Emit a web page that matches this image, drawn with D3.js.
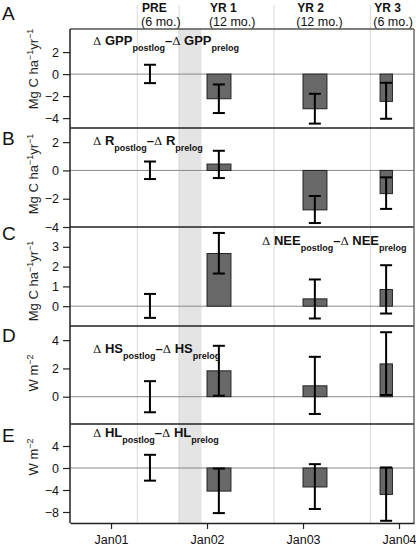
<!DOCTYPE html>
<html><head><meta charset="utf-8">
<script src="https://cdn.jsdelivr.net/npm/d3@7"></script>
<style>
html,body{margin:0;padding:0;background:#fff;}
svg{display:block;font-family:"Liberation Sans",Arial,Helvetica,sans-serif;}
</style></head>
<body>
<svg id="chart" width="416" height="548"></svg>
<script>
// ---------- data ----------
const periods = ["PRE", "YR 1", "YR 2", "YR 3"];
const periodNotes = ["(6 mo.)", "(12 mo.)", "(12 mo.)", "(6 mo.)"];
const headerDates = ["2001-04-29", "2002-01-12", "2002-12-10", "2003-09-29"];
const errDates = ["2001-05-29", "2002-02-15", "2003-02-15", "2003-11-13"];
const barStart = [null, "2002-01-01", "2003-01-01", "2003-10-21"];
const barEnd = [null, "2002-04-02", "2003-04-02", "2003-12-07"];
const gridDates = ["2001-04-11", "2001-09-17", "2002-09-13", "2003-09-14"];
const loggingBand = ["2001-09-15", "2001-12-11"];
const xTickDates = ["2001-01-01", "2002-01-01", "2003-01-01", "2004-01-01"];
const xTickLabels = ["Jan01", "Jan02", "Jan03", "Jan04"];
const xDomain = ["2000-07-29", "2004-02-27"];

const panelLetters = ["A", "B", "C", "D", "E"];
const panelVars = ["GPP", "R", "NEE", "HS", "HL"];
const panelUnits = ["carbon", "carbon", "carbon", "energy", "energy"];

const gppBar = [null, -2.24, -3.15, -2.48];
const gppLow = [-0.82, -3.54, -4.50, -4.06];
const gppHigh = [0.85, -0.94, -1.79, -0.79];
const gppTicks = [-4, -2, 0, 2];
const gppDomain = [-4.9, 4.1];

const rBar = [null, 0.45, -2.79, -1.64];
const rLow = [-0.61, -0.54, -3.72, -2.72];
const rHigh = [0.63, 1.39, -1.81, -0.49];
const rTicks = [-4, -2, 0, 2];
const rDomain = [-4, 3];

const neeBar = [null, 2.66, 0.37, 0.84];
const neeLow = [-0.59, 1.65, -0.62, -0.37];
const neeHigh = [0.62, 3.70, 1.35, 2.07];
const neeTicks = [0, 1, 2, 3];
const neeDomain = [-1, 4];

const hsBar = [null, 1.83, 0.77, 2.32];
const hsLow = [-1.10, 0.07, -1.22, 0.12];
const hsHigh = [1.10, 3.60, 2.82, 4.56];
const hsTicks = [0, 2, 4];
const hsDomain = [-2, 5];

const hlBar = [null, -4.20, -3.45, -4.80];
const hlLow = [-2.30, -8.20, -7.45, -9.60];
const hlHigh = [2.40, -0.10, 0.70, 0.10];
const hlTicks = [-8, -4, 0, 4];
const hlDomain = [-10, 8];

// ---------- layout ----------
const parse = d3.timeParse("%Y-%m-%d");
const L = 70, R = 414;
const panelTops = [29, 128, 227, 326, 424];
const panelH = 99;
const bottom = 523;
const letterBase = [20, 145, 240, 342, 442];
const ylabCenter = [69, 174, 281, 373, 457];
const annot = [
  {x: 93, y: 45}, {x: 93, y: 145}, {x: 262, y: 245}, {x: 93, y: 353}, {x: 93, y: 437}
];

const panels = [
  {bar: gppBar, lo: gppLow, hi: gppHigh, ticks: gppTicks, dom: gppDomain},
  {bar: rBar, lo: rLow, hi: rHigh, ticks: rTicks, dom: rDomain},
  {bar: neeBar, lo: neeLow, hi: neeHigh, ticks: neeTicks, dom: neeDomain},
  {bar: hsBar, lo: hsLow, hi: hsHigh, ticks: hsTicks, dom: hsDomain},
  {bar: hlBar, lo: hlLow, hi: hlHigh, ticks: hlTicks, dom: hlDomain}
];

const svg = d3.select("#chart");
const x = d3.scaleTime().domain(xDomain.map(parse)).range([L, R]);

// logging band (inside panels)
svg.append("rect")
  .attr("x", x(parse(loggingBand[0])))
  .attr("width", x(parse(loggingBand[1])) - x(parse(loggingBand[0])))
  .attr("y", panelTops[0]).attr("height", bottom - panelTops[0])
  .attr("fill", "#e4e4e4");

// vertical grid lines
svg.selectAll("line.grid").data(gridDates).join("line")
  .attr("class", "grid")
  .attr("x1", d => x(parse(d))).attr("x2", d => x(parse(d)))
  .attr("y1", 5).attr("y2", bottom)
  .attr("stroke", "#dadada").attr("stroke-width", 1);

// header
const hdr = svg.selectAll("g.hdr").data(periods).join("g").attr("class", "hdr");
hdr.append("text")
  .attr("x", (d, i) => x(parse(headerDates[i]))).attr("y", 12)
  .attr("font-size", 12).attr("font-weight", "bold").attr("fill", "#111")
  .text(d => d);
hdr.append("text")
  .attr("x", (d, i) => x(parse(headerDates[i])) - 1).attr("y", 26)
  .attr("font-size", 12.5).attr("fill", "#111")
  .text((d, i) => periodNotes[i]);

panels.forEach((p, k) => {
  const top = panelTops[k];
  const y = d3.scaleLinear().domain(p.dom).range([top + panelH, top]);
  const g = svg.append("g");

  // zero line
  g.append("line").attr("x1", L).attr("x2", R).attr("y1", y(0)).attr("y2", y(0))
    .attr("stroke", "#8a8a8a").attr("stroke-width", 1);

  // bars
  const idx = d3.range(periods.length).filter(i => p.bar[i] !== null);
  g.selectAll("rect.bar").data(idx).join("rect")
    .attr("class", "bar")
    .attr("x", i => x(parse(barStart[i])))
    .attr("width", i => x(parse(barEnd[i])) - x(parse(barStart[i])))
    .attr("y", i => Math.min(y(p.bar[i]), y(0)))
    .attr("height", i => Math.abs(y(p.bar[i]) - y(0)))
    .attr("fill", "#686868").attr("stroke", "#222").attr("stroke-width", 1);

  // error bars
  const eb = g.selectAll("g.eb").data(d3.range(periods.length)).join("g").attr("class", "eb");
  eb.append("line")
    .attr("x1", i => x(parse(errDates[i]))).attr("x2", i => x(parse(errDates[i])))
    .attr("y1", i => y(p.lo[i])).attr("y2", i => y(p.hi[i]))
    .attr("stroke", "#000").attr("stroke-width", 2);
  ["lo", "hi"].forEach(key => {
    eb.append("line")
      .attr("x1", i => x(parse(errDates[i])) - 6).attr("x2", i => x(parse(errDates[i])) + 6)
      .attr("y1", i => y(p[key][i])).attr("y2", i => y(p[key][i]))
      .attr("stroke", "#000").attr("stroke-width", 2);
  });

  // y axis
  const ax = g.append("g").attr("transform", `translate(${L},0)`)
    .call(d3.axisLeft(y).tickValues(p.ticks).tickSize(7).tickSizeOuter(0)
      .tickFormat(d => d < 0 ? "\u2212" + Math.abs(d) : String(d)));
  ax.select(".domain").remove();
  ax.selectAll(".tick line").attr("stroke", "#222").attr("stroke-width", 1.2);
  ax.selectAll(".tick text").attr("font-size", 12.5).attr("fill", "#111")
    .attr("font-family", "'Liberation Sans',Arial,sans-serif").attr("x", -11);

  // panel top border
  g.append("line").attr("x1", L).attr("x2", R).attr("y1", top).attr("y2", top)
    .attr("stroke", k === 0 ? "#555" : "#222").attr("stroke-width", 1.3);

  // panel letter
  svg.append("text").attr("x", 2).attr("y", letterBase[k])
    .attr("font-size", 19).attr("fill", "#111").text(panelLetters[k]);

  // y label
  const yl = svg.append("text")
    .attr("transform", `translate(38,${ylabCenter[k]}) rotate(-90)`)
    .attr("text-anchor", "middle").attr("font-size", 13).attr("fill", "#222");
  if (panelUnits[k] === "carbon") {
    yl.append("tspan").text("Mg C ha");
    yl.append("tspan").attr("dy", -5).attr("font-size", 9).text("\u22121");
    yl.append("tspan").attr("dy", 5).text("yr");
    yl.append("tspan").attr("dy", -5).attr("font-size", 9).text("\u22121");
  } else {
    yl.append("tspan").text("W m");
    yl.append("tspan").attr("dy", -5).attr("font-size", 9).text("\u22122");
  }

  // annotation
  const a = svg.append("text").attr("x", annot[k].x).attr("y", annot[k].y)
    .attr("font-size", 13).attr("fill", "#111");
  a.append("tspan").attr("font-family", "'DejaVu Serif',serif").attr("font-size", 11.5).text("\u0394");
  a.append("tspan").attr("font-weight", "bold").text(" " + panelVars[k]);
  a.append("tspan").attr("dy", 6).attr("font-size", 9).attr("font-weight", "bold").text("postlog");
  a.append("tspan").attr("dy", -6).attr("font-weight", "bold").text("\u2013");
  a.append("tspan").attr("font-family", "'DejaVu Serif',serif").attr("font-size", 11.5).text("\u0394");
  a.append("tspan").attr("font-weight", "bold").text(" " + panelVars[k]);
  a.append("tspan").attr("dy", 6).attr("font-size", 9).attr("font-weight", "bold").text("prelog");
});

// outer frame: left & right borders, bottom axis
svg.append("line").attr("x1", L).attr("x2", L).attr("y1", panelTops[0]).attr("y2", bottom)
  .attr("stroke", "#222").attr("stroke-width", 1.5);
svg.append("line").attr("x1", R).attr("x2", R).attr("y1", panelTops[0]).attr("y2", bottom)
  .attr("stroke", "#555").attr("stroke-width", 1.3);

const xa = svg.append("g").attr("transform", `translate(0,${bottom})`)
  .call(d3.axisBottom(x).tickValues(xTickDates.map(parse)).tickSize(6).tickSizeOuter(0)
    .tickFormat((d, i) => xTickLabels[i]));
xa.select(".domain").attr("stroke", "#222").attr("stroke-width", 1.5);
xa.selectAll(".tick line").attr("stroke", "#222").attr("stroke-width", 1.2);
xa.selectAll(".tick text").attr("font-size", 12.5).attr("fill", "#111")
  .attr("font-family", "'Liberation Sans',Arial,sans-serif").attr("y", 12);
</script>
</body></html>
